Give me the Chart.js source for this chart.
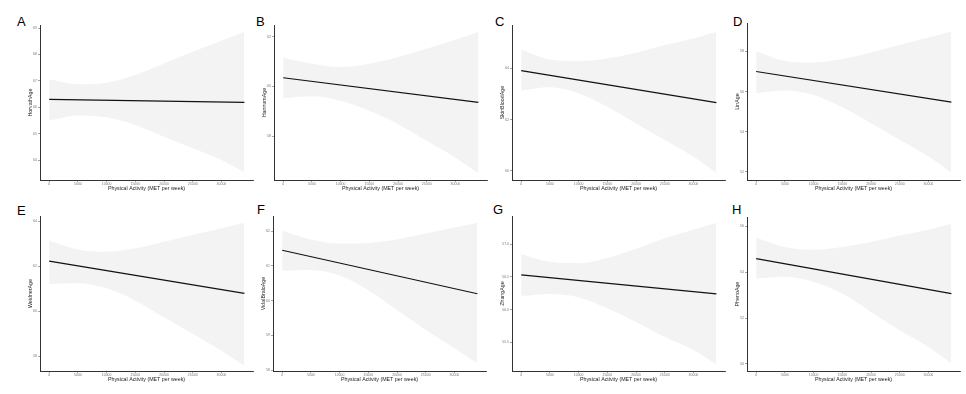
<!DOCTYPE html>
<html>
<head>
<meta charset="utf-8">
<script src="https://cdn.jsdelivr.net/npm/chart.js@4/dist/chart.umd.min.js"></script>
<style>
  html, body { margin: 0; padding: 0; background: #fff; }
  body { width: 966px; height: 394px; position: relative; overflow: hidden; font-family: "Liberation Sans", Arial, sans-serif; }
  .panel { position: absolute; }
  .letter { position: absolute; font-size: 13px; color: #000; line-height: 1; }
</style>
</head>
<body>
<script>
// ---------------- DATA ----------------
const xTitle = "Physical Activity (MET per week)";
const xTicks = [0, 5000, 10000, 15000, 20000, 25000, 30000];
const xPoints = [0, 5000, 10000, 15000, 20000, 25000, 30000, 34000];

const panelLetters = ["A", "B", "C", "D", "E", "F", "G", "H"];
const yTitles = ["HorvathAge", "HannumAge", "SkinBloodAge", "LinAge", "WeidnerAge", "VidalBraloAge", "ZhangAge", "PhenoAge"];

// y tick labels per panel
const yTicksA = ["64", "65", "66", "67", "68", "69"];
const yTicksB = ["58", "60", "62"];
const yTicksC = ["60", "62", "64"];
const yTicksD = ["52", "54", "56", "58"];
const yTicksE = ["58", "60", "62", "64"];
const yTicksF = ["58", "59", "60", "61", "62"];
const yTicksG = ["55.5", "56.0", "56.5", "57.0"];
const yTicksH = ["50", "52", "54", "56"];

// y axis limits per panel [min, max]
const yRangeA = [63.25, 69.11];
const yRangeB = [56.23, 62.47];
const yRangeC = [59.64, 65.69];
const yRangeD = [51.58, 59.42];
const yRangeE = [57.35, 64.22];
const yRangeF = [57.98, 62.43];
const yRangeG = [55.06, 57.43];
const yRangeH = [49.69, 56.41];

// fitted line: value at PA = 0 and at PA = 34000
const fitA = [66.30, 66.19];
const fitB = [60.35, 59.36];
const fitC = [63.91, 62.66];
const fitD = [57.00, 55.47];
const fitE = [62.22, 60.79];
const fitF = [61.45, 60.20];
const fitG = [56.53, 56.24];
const fitH = [54.60, 53.07];

// confidence band, upper and lower, at xPoints
const upperA = [67.06, 66.87, 66.93, 67.22, 67.66, 68.10, 68.52, 68.86];
const lowerA = [65.50, 65.69, 65.62, 65.33, 64.89, 64.45, 64.01, 63.54];
const upperB = [61.15, 60.91, 60.78, 60.91, 61.18, 61.52, 61.88, 62.19];
const lowerB = [59.52, 59.60, 59.42, 59.02, 58.48, 57.81, 57.13, 56.50];
const upperC = [64.74, 64.35, 64.29, 64.39, 64.61, 64.91, 65.17, 65.43];
const lowerC = [63.13, 63.26, 63.02, 62.50, 61.85, 61.20, 60.55, 59.92];
const upperD = [58.00, 57.53, 57.45, 57.62, 57.95, 58.33, 58.70, 59.00];
const lowerD = [55.92, 56.05, 55.83, 55.22, 54.42, 53.58, 52.75, 51.95];
const upperE = [63.13, 62.74, 62.64, 62.79, 63.08, 63.38, 63.68, 63.93];
const lowerE = [61.21, 61.24, 61.02, 60.47, 59.73, 58.99, 58.25, 57.58];
const upperF = [62.01, 61.76, 61.64, 61.66, 61.76, 61.93, 62.10, 62.24];
const lowerF = [60.86, 60.88, 60.72, 60.30, 59.73, 59.16, 58.63, 58.20];
const upperG = [56.85, 56.73, 56.71, 56.79, 56.93, 57.09, 57.22, 57.33];
const lowerG = [56.21, 56.24, 56.19, 56.02, 55.81, 55.58, 55.38, 55.16];
const upperH = [55.51, 55.10, 54.98, 55.10, 55.32, 55.61, 55.86, 56.12];
const lowerH = [53.72, 53.80, 53.58, 53.07, 52.27, 51.47, 50.74, 50.02];

// ---------------- LAYOUT ----------------
// plot-area geometry per panel: axis left, axis top, axis bottom (px), letter position
const geom = [
  { L: 40,  T: 25,  B: 180, lx: 17,  ly: 15 },
  { L: 274, T: 25,  B: 180, lx: 256, ly: 15 },
  { L: 512, T: 25,  B: 180, lx: 495, ly: 15 },
  { L: 747, T: 23,  B: 180, lx: 733, ly: 15 },
  { L: 40,  T: 216, B: 371, lx: 17,  ly: 204 },
  { L: 273, T: 216, B: 371, lx: 257, ly: 203 },
  { L: 512, T: 216, B: 371, lx: 493, ly: 203 },
  { L: 747, T: 217, B: 371, lx: 732, ly: 203 }
];

const panels = [
  [yTicksA, yRangeA, fitA, upperA, lowerA],
  [yTicksB, yRangeB, fitB, upperB, lowerB],
  [yTicksC, yRangeC, fitC, upperC, lowerC],
  [yTicksD, yRangeD, fitD, upperD, lowerD],
  [yTicksE, yRangeE, fitE, upperE, lowerE],
  [yTicksF, yRangeF, fitF, upperF, lowerF],
  [yTicksG, yRangeG, fitG, upperG, lowerG],
  [yTicksH, yRangeH, fitH, upperH, lowerH]
];

const FONT = "'Liberation Sans', Arial, sans-serif";
const Y_W = 13, X_H = 12, PLOT_W = 213, PAD_T = 3, PAD_R = 3;
const X_MIN = -1600, X_MAX = 35500;

panels.forEach((p, i) => {
  const [yt, yr, fit, up, lo] = p;
  const g = geom[i];

  const letter = document.createElement("div");
  letter.className = "letter";
  letter.textContent = panelLetters[i];
  letter.style.left = g.lx + "px";
  letter.style.top = g.ly + "px";
  document.body.appendChild(letter);

  const div = document.createElement("div");
  div.className = "panel";
  const w = Y_W + PLOT_W + PAD_R;
  const h = (g.B - g.T) + PAD_T + X_H;
  div.style.left = (g.L - Y_W) + "px";
  div.style.top = (g.T - PAD_T) + "px";
  div.style.width = w + "px";
  div.style.height = h + "px";
  const c = document.createElement("canvas");
  c.width = w; c.height = h;
  div.appendChild(c);
  document.body.appendChild(div);

  const yVals = yt.map(Number);
  const xEnd = xPoints[xPoints.length - 1];

  new Chart(c, {
    type: "line",
    data: {
      datasets: [
        { data: xPoints.map((x, k) => ({ x, y: lo[k] })), borderWidth: 0, pointRadius: 0, fill: false, cubicInterpolationMode: "monotone", order: 3 },
        { data: xPoints.map((x, k) => ({ x, y: up[k] })), borderWidth: 0, pointRadius: 0, fill: "-1", backgroundColor: "#f3f3f3", cubicInterpolationMode: "monotone", order: 2 },
        { data: [{ x: 0, y: fit[0] }, { x: xEnd, y: fit[1] }], borderColor: "#111", borderWidth: 1.2, pointRadius: 0, fill: false, order: 0 }
      ]
    },
    options: {
      responsive: false,
      animation: false,
      devicePixelRatio: 1,
      layout: { padding: { top: PAD_T, right: PAD_R, left: 0, bottom: 0 } },
      plugins: { legend: { display: false }, tooltip: { enabled: false } },
      scales: {
        x: {
          type: "linear", min: X_MIN, max: X_MAX,
          afterBuildTicks: s => { s.ticks = xTicks.map(v => ({ value: v })); },
          afterFit: s => { s.height = X_H; },
          grid: { display: true, drawOnChartArea: false, drawTicks: true, tickLength: 2, color: "#666", lineWidth: 0.6 },
          border: { display: true, color: "#333", width: 1 },
          ticks: { font: { size: 3.5, family: FONT }, color: "#777", padding: 0, maxRotation: 0, autoSkip: false, callback: v => String(v) },
          title: { display: true, text: xTitle, font: { size: 5.3, family: FONT }, color: "#222", padding: 0 }
        },
        y: {
          type: "linear", min: yr[0], max: yr[1],
          afterBuildTicks: s => { s.ticks = yVals.map(v => ({ value: v })); },
          afterFit: s => { s.width = Y_W; },
          grid: { display: true, drawOnChartArea: false, drawTicks: true, tickLength: 2, color: "#666", lineWidth: 0.6 },
          border: { display: true, color: "#333", width: 1 },
          ticks: { font: { size: 3.5, family: FONT }, color: "#777", padding: 1, autoSkip: false, callback: v => yt[yVals.indexOf(v)] ?? String(v) },
          title: { display: true, text: yTitles[i], font: { size: 5.3, family: FONT }, color: "#222", padding: 0 }
        }
      }
    }
  });
});
</script>
</body>
</html>
